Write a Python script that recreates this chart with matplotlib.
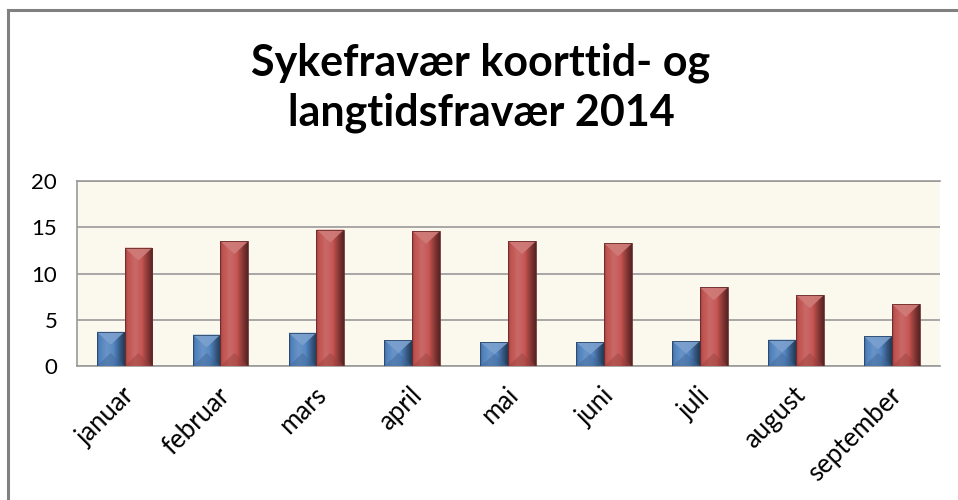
import numpy as np
import matplotlib
matplotlib.use("Agg")
import matplotlib.pyplot as plt
from matplotlib.patches import Rectangle, Polygon
from matplotlib.colors import to_rgb
import matplotlib.transforms as mtransforms

months = ["januar", "februar", "mars", "april", "mai", "juni", "juli", "august", "september"]
korttid = [3.7, 3.4, 3.6, 2.8, 2.55, 2.55, 2.7, 2.85, 3.2]
langtid = [12.8, 13.5, 14.75, 14.6, 13.5, 13.25, 8.5, 7.65, 6.7]
yticks = [0, 5, 10, 15, 20]
title = "Sykefravær koorttid- og\nlangtidsfravær 2014"

BLUE = "#4F81BD"
RED = "#C0504D"
BG = "#FBF8EE"

plt.rcParams['font.family'] = ['Lato', 'DejaVu Sans']

fig = plt.figure(figsize=(9.58, 5.0), dpi=100)
ax = fig.add_axes([0.080, 0.268, 0.901, 0.370])
ax.set_facecolor(BG)

x = np.arange(len(months))
w = 0.29

def shade(c, f):
    r = np.array(to_rgb(c))
    if f >= 0:
        return tuple(r + (1 - r) * f)
    return tuple(r * (1 + f))

def gradient_bar(ax, x0, width, h, color):
    rect = Rectangle((x0, 0), width, h, facecolor=color, edgecolor='none', zorder=3)
    ax.add_patch(rect)
    n = 64
    t = np.linspace(0, 1, n)
    prof = np.interp(t, [0, 0.08, 0.35, 0.6, 0.85, 1.0], [-0.25, 0.0, 0.15, 0.05, -0.35, -0.55])
    img = np.array([[shade(color, p) for p in prof]])
    im = ax.imshow(img, extent=(x0, x0 + width, 0, h), aspect='auto', zorder=3.1, interpolation='bilinear')
    im.set_clip_path(rect)
    bh = min(1.4, h / 2)
    top = Polygon([(x0, h), (x0 + width, h), (x0 + width / 2, h - bh)], closed=True,
                  facecolor=shade(color, 0.25), edgecolor='none', zorder=3.2, alpha=0.9)
    ax.add_patch(top)
    bot = Polygon([(x0, 0), (x0 + width, 0), (x0 + width / 2, min(bh, h / 2))], closed=True,
                  facecolor=shade(color, -0.2), edgecolor='none', zorder=3.2, alpha=0.45)
    ax.add_patch(bot)
    ax.add_patch(Rectangle((x0, 0), width, h, facecolor='none', edgecolor=shade(color, -0.45), linewidth=0.6, zorder=3.3))

for i in range(len(months)):
    gradient_bar(ax, x[i] - w, w, korttid[i], BLUE)
    gradient_bar(ax, x[i], w, langtid[i], RED)

ax.set_xlim(-0.5, len(months) - 0.5)
ax.set_ylim(0, 20)
ax.set_yticks(yticks)
ax.set_yticklabels([str(v) for v in yticks], fontsize=16)
ax.yaxis.grid(True, color="#9A9A9A", linewidth=1.2)
ax.set_axisbelow(True)
ax.tick_params(axis='y', length=0, pad=14)
ax.tick_params(axis='x', length=0, pad=12)
for s in ['left', 'bottom', 'top', 'right']:
    ax.spines[s].set_color("#9A9A9A")
    ax.spines[s].set_linewidth(1.2)
ax.spines['right'].set_visible(False)

ax.set_xticks(x)
labels = ax.set_xticklabels(months, rotation=45, ha='right', va='top', rotation_mode='anchor', fontsize=18.5)
offset = mtransforms.ScaledTranslation(-3 / 100, 0, fig.dpi_scale_trans)
for lab in labels:
    lab.set_transform(lab.get_transform() + offset)

fig.text(0.502, 0.825, title, ha='center', va='center', fontsize=31, fontweight='bold', linespacing=1.3)

fig.add_artist(plt.Line2D([8 / 958, 1.0], [1 - 10 / 500, 1 - 10 / 500], color="#808080", linewidth=2.2, transform=fig.transFigure))
fig.add_artist(plt.Line2D([8 / 958, 8 / 958], [0, 1 - 10 / 500], color="#808080", linewidth=2.2, transform=fig.transFigure))

fig.savefig("out.png", dpi=100)
